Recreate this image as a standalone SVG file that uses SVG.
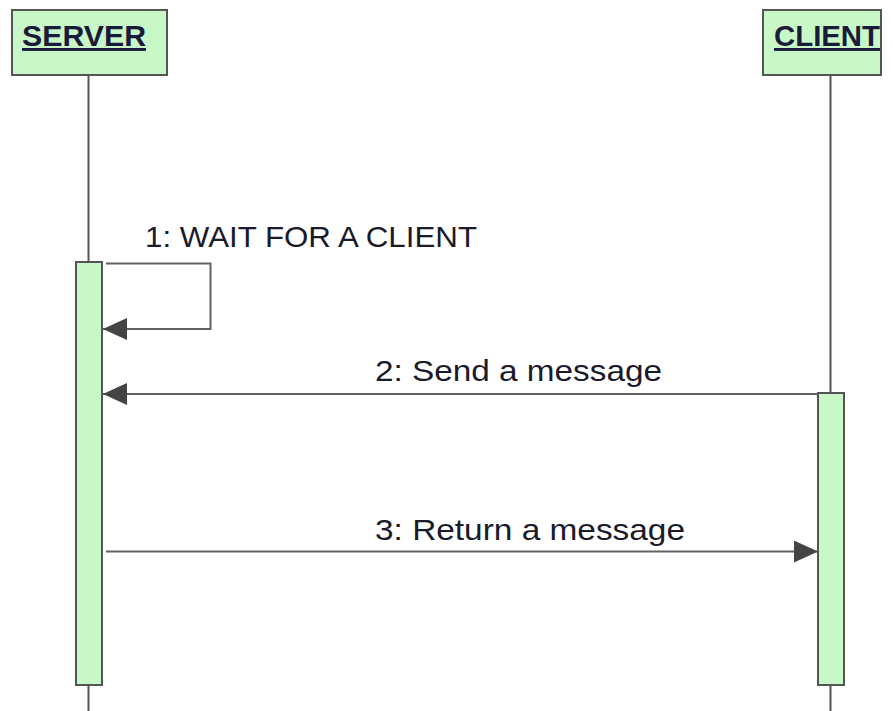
<svg xmlns="http://www.w3.org/2000/svg" width="893" height="711" viewBox="0 0 893 711">
  <style>
    .head { fill: #c8f8c8; stroke: #555; stroke-width: 2; }
    .act { fill: #c8f8c8; stroke: #555; stroke-width: 2; }
    .life { stroke: #555; stroke-width: 2; fill: none; }
    .msg { stroke: #606060; stroke-width: 2; fill: none; }
    .name { font-family: "Liberation Sans", Arial, sans-serif; font-size: 29px; font-weight: bold; fill: #1a1a3a; text-decoration: underline; }
    .label { font-family: "Liberation Sans", Arial, sans-serif; font-size: 30px; fill: #1a1a2a; }
  </style>
  <defs>
    <marker id="arrow" markerWidth="24" markerHeight="22" refX="24" refY="11" orient="auto" markerUnits="userSpaceOnUse">
      <path d="M0,0 L24,11 L0,22 Z" fill="#444"/>
    </marker>
  </defs>
  <rect width="893" height="711" fill="#fff"/>

  <!-- lifelines -->
  <g id="lifelines">
    <line class="life" x1="88.5" y1="75" x2="88.5" y2="262"/>
    <line class="life" x1="88.5" y1="685" x2="88.5" y2="711"/>
    <line class="life" x1="830.5" y1="75" x2="830.5" y2="393"/>
    <line class="life" x1="830.5" y1="685" x2="830.5" y2="711"/>
  </g>

  <g id="server">
    <rect class="head" x="12" y="10" width="155" height="65"/>
    <text class="name" x="22" y="46" textLength="124" lengthAdjust="spacingAndGlyphs">SERVER</text>
    <rect class="act" x="76" y="262" width="26" height="423"/>
  </g>

  <g id="client">
    <rect class="head" x="763" y="10" width="118" height="65"/>
    <text class="name" x="774" y="46" textLength="106" lengthAdjust="spacingAndGlyphs">CLIENT</text>
    <rect class="act" x="818" y="393" width="26" height="292"/>
  </g>

  <g id="connectors">
    <polyline class="msg" points="106,263.5 210.5,263.5 210.5,329 103,329" marker-end="url(#arrow)"/>
    <text class="label" x="145" y="247" textLength="332" lengthAdjust="spacingAndGlyphs">1: WAIT FOR A CLIENT</text>
    <line class="msg" x1="818" y1="394" x2="103" y2="394" marker-end="url(#arrow)"/>
    <text class="label" x="375" y="381" textLength="287" lengthAdjust="spacingAndGlyphs">2: Send a message</text>
    <line class="msg" x1="106" y1="551.5" x2="818" y2="551.5" marker-end="url(#arrow)"/>
    <text class="label" x="375" y="540" textLength="310" lengthAdjust="spacingAndGlyphs">3: Return a message</text>
  </g>
</svg>
